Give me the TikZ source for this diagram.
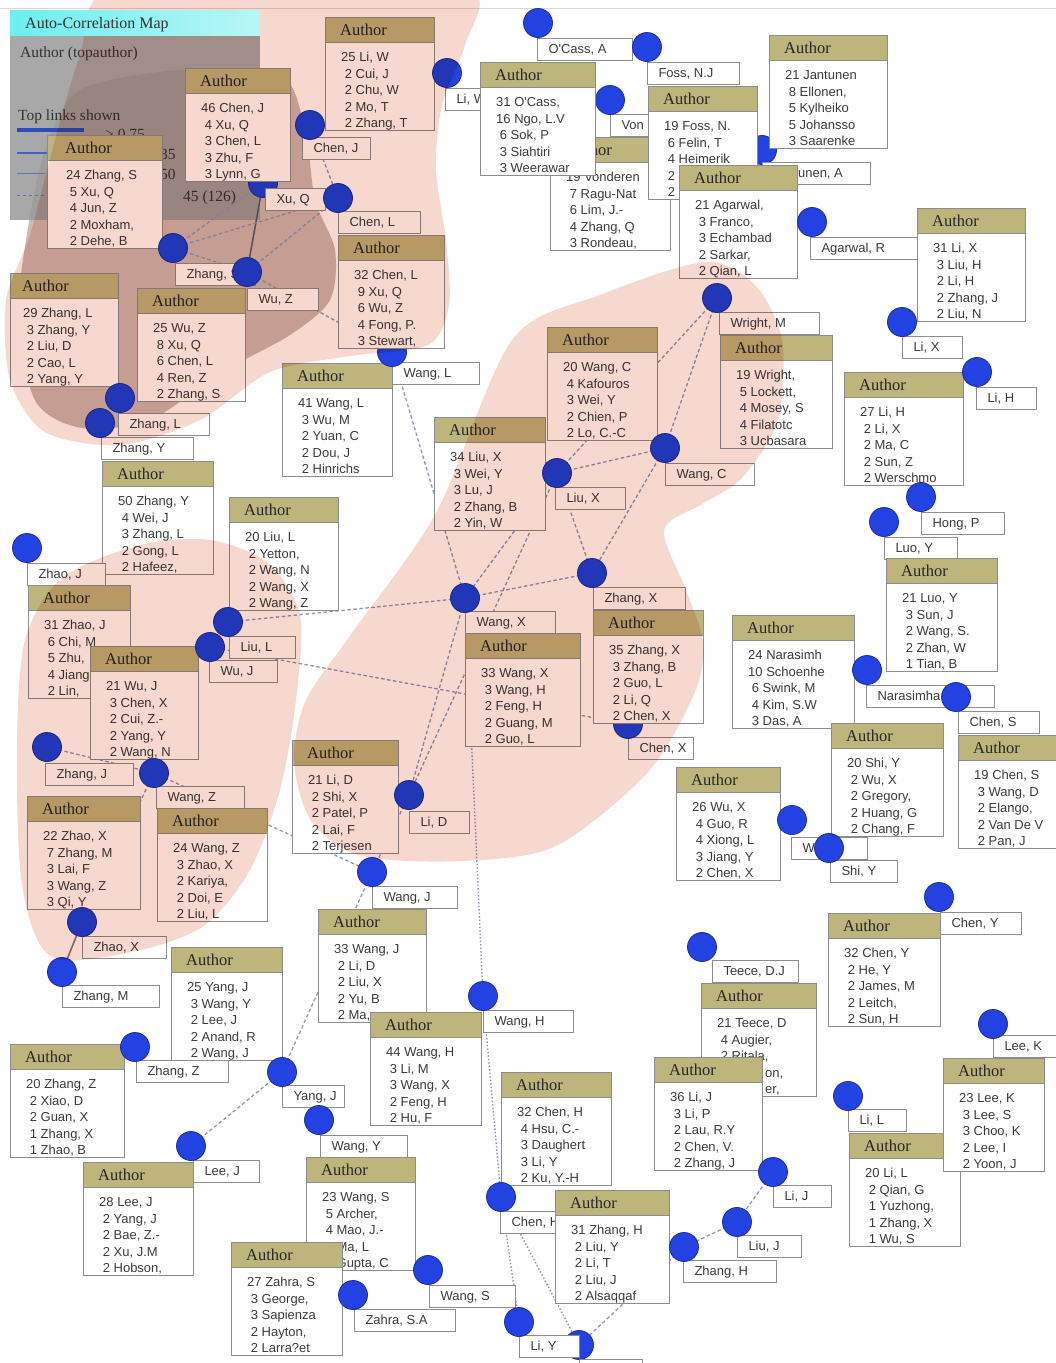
\documentclass[tikz,border=0pt]{standalone}
\usepackage{fontspec}
\setmainfont{Liberation Serif}
\newfontfamily\lsans{Liberation Sans}
\definecolor{hdr}{HTML}{BEB57D}
\definecolor{bord}{HTML}{8C8C8C}
\definecolor{txt}{HTML}{3A3A3A}
\definecolor{dotc}{HTML}{2342E2}
\definecolor{dotb}{HTML}{1B2C9E}
\definecolor{lnk}{HTML}{8E96B8}
\definecolor{pinkb}{HTML}{F6D8CF}
\definecolor{brownb}{HTML}{CDBAB4}
\definecolor{leg}{HTML}{999999}
\definecolor{cyanl}{HTML}{6CEEF0}
\definecolor{cyanr}{HTML}{B8F6F6}
\definecolor{lgA}{HTML}{2B4CB8}
\definecolor{lgB}{HTML}{4462C6}
\definecolor{lgC}{HTML}{5A72C8}
\definecolor{solA}{HTML}{5B5B6E}
\definecolor{solB}{HTML}{8B6F80}
\pgfdeclarelayer{lay0}\pgfdeclarelayer{lay1}\pgfdeclarelayer{lay3}\pgfdeclarelayer{lay4}
\pgfsetlayers{lay0,lay1,main,lay3,lay4}
\tikzset{
 bdot/.style={circle, fill=dotc, draw=dotb, line width=0.8pt, minimum size=29pt, inner sep=0pt},
 lbl/.style={draw=bord, fill=white, line width=1pt, anchor=north west, minimum height=22pt, inner xsep=11pt, inner ysep=0pt, text height=9.5pt, text depth=2.5pt, font=\lsans\fontsize{13}{15}\selectfont, text=txt},
 cardbox/.style={draw=bord, fill=white, line width=1.1pt, anchor=north west, minimum height=113pt, inner sep=0pt},
 cardhead/.style={draw=bord, fill=hdr, line width=1.1pt, anchor=north west, minimum height=25pt, inner sep=0pt},
 headtxt/.style={anchor=base west, inner sep=0pt, font=\fontsize{16.5}{18}\selectfont, text=black!85},
 bodytxt/.style={anchor=base west, inner sep=0pt, font=\lsans\fontsize{13}{16.5}\selectfont, text=txt},
 legtxt/.style={anchor=base west, inner sep=0pt, font=\fontsize{15.5}{17}\selectfont, text=black!80},
 lk/.style={draw=lnk, line width=1.3pt, dash pattern=on 3.5pt off 2.5pt},
 lkd/.style={draw=lnk, line width=1.4pt, dash pattern=on 1.5pt off 2pt},
 lks/.style={draw=#1, line width=1.5pt},
}
\newcommand\card[6][15]{%
 \node[cardbox, minimum width=#5pt] (#2) at (#3,#4) {};
 \node[cardhead, minimum width=#5pt] (#2-h) at (#3,#4) {};
 \node[headtxt] (#2-t) at (#3+#1,#4+18) {Author};
 \node[bodytxt] (#2-b) at (#3+#1+1,#4+44.5) {\begin{tabular}[t]{@{}l@{}}#6\end{tabular}};
}
\newcommand\lab[5]{\node[lbl] (#1) at (#2,#3) {\makebox[\dimexpr#4pt-22pt\relax][l]{#5}};}
\newcommand\bd[3]{\node[bdot] (#1) at (#2,#3) {};}
\begin{document}
\begin{tikzpicture}[x=1pt,y=-1pt]
\useasboundingbox (0,0) rectangle (1056,1363);
\begin{pgfonlayer}{lay0}
\fill[white] (0,0) rectangle (1056,1363);
\draw[black!15, line width=1pt] (0,8) -- (1056,8);
\fill[brownb] plot[smooth cycle] coordinates {(80,90) (180,70) (280,75) (305,130) (315,200) (335,250) (330,300) (290,335) (222,372) (150,420) (82,428) (36,402) (18,322) (26,240) (45,150)};
\fill[leg, fill opacity=0.85] (10,10) rectangle (260,220);
\node[legtxt] (lg1) at (20,57) {Author (topauthor)};
\node[legtxt] (lg2) at (18,120) {Top links shown};
\draw[lgA, line width=4pt] (17,130) -- (84,130);
\node[legtxt] (lg3) at (105,139) {> 0.75};
\draw[lgB, line width=1.6pt] (17,153) -- (47,153);
\node[legtxt] (lg4) at (160,159) {35};
\draw[lgC, line width=1pt] (17,173) -- (45,173);
\node[legtxt] (lg5) at (160,179) {50};
\draw[lgC, line width=1pt, dash pattern=on 3pt off 3pt] (17,195) -- (47,195);
\node[legtxt] (lg6) at (183,201) {45 (126)};
\end{pgfonlayer}
% ---- upper area
\card{cliw}{325}{17}{109}{25 Li, W\\\ 2 Cui, J\\\ 2 Chu, W\\\ 2 Mo, T\\\ 2 Zhang, T}
\lab{lliw}{445}{88}{80}{Li, W}
\bd{dliw}{447}{73}
\card{cvon}{550}{137}{120}{19 Vonderen\\\ 7 Ragu-Nat\\\ 6 Lim, J.-\\\ 4 Zhang, Q\\\ 3 Rondeau,}
\lab{lvon}{610}{114}{80}{Von}
\bd{dvon}{610}{100}
\lab{locass}{537}{38}{95}{O'Cass, A}
\card{cocass}{480}{62}{115}{31 O'Cass,\\16 Ngo, L.V\\\ 6 Sok, P\\\ 3 Siahtiri\\\ 3 Weerawar}
\bd{docass}{538}{23}
\bd{djant}{762}{150}
\card{cjant}{769}{35}{118}{21 Jantunen\\\ 8 Ellonen,\\\ 5 Kylheiko\\\ 5 Johansso\\\ 3 Saarenke}
\lab{ljant}{762}{162}{108}{Jantunen, A}
\lab{lfoss}{647}{62}{92}{Foss, N.J}
\card{cfoss}{648}{86}{109}{19 Foss, N.\\\ 6 Felin, T\\\ 4 Heimerik\\\ 2\\\ 2}
\bd{dfoss}{647}{47}
\card{cagar}{679}{165}{118}{21 Agarwal,\\\ 3 Franco,\\\ 3 Echambad\\\ 2 Sarkar,\\\ 2 Qian, L}
\lab{lagar}{810}{237}{107}{Agarwal, R}
\bd{dagar}{812}{222}
\card{clix}{917}{208}{108}{31 Li, X\\\ 3 Liu, H\\\ 2 Li, H\\\ 2 Zhang, J\\\ 2 Liu, N}
\lab{llix}{902}{336}{60}{Li, X}
\bd{dlix}{902}{322}
% ---- upper-left cluster
\card[18]{czs}{47}{135}{115}{24 Zhang, S\\\ 5 Xu, Q\\\ 4 Jun, Z\\\ 2 Moxham,\\\ 2 Dehe, B}
\lab{lzs}{175}{263}{80}{Zhang, S}
\bd{dzs}{173}{248}
\bd{dxuq}{263}{183}
\card{cchenj}{185}{68}{105}{46 Chen, J\\\ 4 Xu, Q\\\ 3 Chen, L\\\ 3 Zhu, F\\\ 3 Lynn, G}
\lab{lchenj}{302}{137}{68}{Chen, J}
\bd{dchenj}{310}{125}
\lab{lxuq}{265}{188}{60}{Xu, Q}
\card[12]{czl}{10}{273}{108}{29 Zhang, L\\\ 3 Zhang, Y\\\ 2 Liu, D\\\ 2 Cao, L\\\ 2 Yang, Y}
\lab{lzl}{118}{413}{91}{Zhang, L}
\bd{dzl}{120}{398}
\card{cwuz}{137}{288}{108}{25 Wu, Z\\\ 8 Xu, Q\\\ 6 Chen, L\\\ 4 Ren, Z\\\ 2 Zhang, S}
\lab{lwuz}{247}{288}{71}{Wu, Z}
\bd{dwuz}{247}{272}
\card{cwangl}{282}{363}{110}{41 Wang, L\\\ 3 Wu, M\\\ 2 Yuan, C\\\ 2 Dou, J\\\ 2 Hinrichs}
\lab{lwangl}{392}{362}{87}{Wang, L}
\bd{dwangl}{392}{352}
\lab{lchenl}{338}{211}{82}{Chen, L}
\card{cchenl}{338}{235}{106}{32 Chen, L\\\ 9 Xu, Q\\\ 6 Wu, Z\\\ 4 Fong, P.\\\ 3 Stewart,}
\bd{dchenl}{338}{198}
% ---- central
\card{cwangc}{547}{327}{110}{20 Wang, C\\\ 4 Kafouros\\\ 3 Wei, Y\\\ 2 Chien, P\\\ 2 Lo, C.-C}
\lab{lwangc}{665}{463}{89}{Wang, C}
\bd{dwangc}{665}{448}
\lab{lwright}{719}{312}{100}{Wright, M}
\card{cwright}{720}{335}{112}{19 Wright,\\\ 5 Lockett,\\\ 4 Mosey, S\\\ 4 Filatotc\\\ 3 Ucbasara}
\bd{dwright}{717}{298}
\card{clih}{844}{372}{119}{27 Li, H\\\ 2 Li, X\\\ 2 Ma, C\\\ 2 Sun, Z\\\ 2 Werschmo}
\lab{llih}{976}{387}{60}{Li, H}
\bd{dlih}{977}{372}
\card{cliux}{434}{417}{111}{34 Liu, X\\\ 3 Wei, Y\\\ 3 Lu, J\\\ 2 Zhang, B\\\ 2 Yin, W}
\lab{lliux}{555}{487}{70}{Liu, X}
\bd{dliux}{557}{473}
\lab{lhongp}{921}{512}{83}{Hong, P}
\bd{dhongp}{921}{497}
\lab{lluoy}{884}{537}{73}{Luo, Y}
\card{cluoy}{886}{558}{111}{21 Luo, Y\\\ 3 Sun, J\\\ 2 Wang, S.\\\ 2 Zhan, W\\\ 1 Tian, B}
\bd{dluoy}{884}{522}
\lab{lzy}{101}{437}{92}{Zhang, Y}
\card{czy}{102}{461}{111}{50 Zhang, Y\\\ 4 Wei, J\\\ 3 Zhang, L\\\ 2 Gong, L\\\ 2 Hafeez,}
\bd{dzy}{100}{423}
\card{cliul}{229}{497}{109}{20 Liu, L\\\ 2 Yetton,\\\ 2 Wang, N\\\ 2 Wang, X\\\ 2 Wang, Z}
\lab{lliul}{229}{636}{66}{Liu, L}
\bd{dliul}{228}{622}
\lab{lzhaoj}{27}{563}{78}{Zhao, J}
\card{czhaoj}{28}{585}{102}{31 Zhao, J\\\ 6 Chi, M\\\ 5 Zhu,\\\ 4 Jiang,\\\ 2 Lin,}
\bd{dzhaoj}{27}{548}
\card{cwuj}{90}{646}{108}{21 Wu, J\\\ 3 Chen, X\\\ 2 Cui, Z.-\\\ 2 Yang, Y\\\ 2 Wang, N}
\lab{lwuj}{209}{660}{68}{Wu, J}
\bd{dwuj}{210}{647}
\lab{lchenx}{628}{737}{65}{Chen, X}
\bd{dchenx}{628}{724}
\lab{lzx}{593}{587}{92}{Zhang, X}
\card{czx}{593}{610}{110}{35 Zhang, X\\\ 3 Zhang, B\\\ 2 Guo, L\\\ 2 Li, Q\\\ 2 Chen, X}
\bd{dzx}{592}{573}
\lab{lwangx}{465}{611}{90}{Wang, X}
\card{cwangx}{465}{633}{115}{33 Wang, X\\\ 3 Wang, H\\\ 2 Feng, H\\\ 2 Guang, M\\\ 2 Guo, L}
\bd{dwangx}{465}{598}
\card{cnaras}{732}{615}{122}{24 Narasimh\\10 Schoenhe\\\ 6 Swink, M\\\ 4 Kim, S.W\\\ 3 Das, A}
\lab{lnaras}{866}{685}{128}{Narasimha}
\bd{dnaras}{867}{670}
\lab{lchens}{958}{711}{81}{Chen, S}
\card{cchens}{958}{735}{110}{19 Chen, S\\\ 3 Wang, D\\\ 2 Elango,\\\ 2 Van De V\\\ 2 Pan, J}
\bd{dchens}{956}{697}
\card{cwux}{676}{767}{104}{26 Wu, X\\\ 4 Guo, R\\\ 4 Xiong, L\\\ 3 Jiang, Y\\\ 2 Chen, X}
\lab{lwux}{791}{837}{76}{Wu, X}
\bd{dwux}{792}{820}
\card{cshiy}{831}{723}{112}{20 Shi, Y\\\ 2 Wu, X\\\ 2 Gregory,\\\ 2 Huang, G\\\ 2 Chang, F}
\lab{lshiy}{830}{860}{67}{Shi, Y}
\bd{dshiy}{829}{848}
\card{clid}{292}{740}{106}{21 Li, D\\\ 2 Shi, X\\\ 2 Patel, P\\\ 2 Lai, F\\\ 2 Terjesen}
\lab{llid}{409}{811}{60}{Li, D}
\bd{dlid}{409}{795}
% ---- lower-left
\lab{lzj}{45}{763}{88}{Zhang, J}
\bd{dzj}{47}{747}
\lab{lwangz}{156}{786}{88}{Wang, Z}
\card{cwangz}{157}{808}{110}{24 Wang, Z\\\ 3 Zhao, X\\\ 2 Kariya,\\\ 2 Doi, E\\\ 2 Liu, L}
\bd{dwangz}{154}{773}
\card{czhaox}{27}{796}{113}{22 Zhao, X\\\ 7 Zhang, M\\\ 3 Lai, F\\\ 3 Wang, Z\\\ 3 Qi, Y}
\lab{lzhaox}{82}{936}{84}{Zhao, X}
\bd{dzhaox}{82}{922}
\lab{lzm}{62}{985}{97}{Zhang, M}
\bd{dzm}{62}{972}
\lab{lwangj}{372}{886}{85}{Wang, J}
\card{cwangj}{318}{909}{108}{33 Wang, J\\\ 2 Li, D\\\ 2 Liu, X\\\ 2 Yu, B\\\ 2 Ma,}
\bd{dwangj}{372}{872}
\lab{lcheny}{940}{912}{81}{Chen, Y}
\card{ccheny}{828}{913}{112}{32 Chen, Y\\\ 2 He, Y\\\ 2 James, M\\\ 2 Leitch,\\\ 2 Sun, H}
\bd{dcheny}{939}{897}
\card{cyangj}{171}{947}{111}{25 Yang, J\\\ 3 Wang, Y\\\ 2 Lee, J\\\ 2 Anand, R\\\ 2 Wang, J}
\lab{lyangj}{282}{1085}{62}{Yang, J}
\bd{dyangj}{282}{1072}
\lab{lteece}{712}{960}{86}{Teece, D.J}
\card{cteece}{701}{983}{115}{21 Teece, D\\\ 4 Augier,\\\ 2 Ritala,\\\hspace*{48pt}on,\\\hspace*{48pt}er,}
\bd{dteece}{702}{947}
\card{cwangh}{370}{1012}{111}{44 Wang, H\\\ 3 Li, M\\\ 3 Wang, X\\\ 2 Feng, H\\\ 2 Hu, F}
\lab{lwangh}{483}{1010}{90}{Wang, H}
\bd{dwangh}{483}{996}
\card{czz}{10}{1044}{114}{20 Zhang, Z\\\ 2 Xiao, D\\\ 2 Guan, X\\\ 1 Zhang, X\\\ 1 Zhao, B}
\lab{lzz}{136}{1060}{92}{Zhang, Z}
\bd{dzz}{135}{1047}
\card{clij}{654}{1057}{108}{36 Li, J\\\ 3 Li, P\\\ 2 Lau, R.Y\\\ 2 Chen, V.\\\ 2 Zhang, J}
\lab{llij}{773}{1185}{58}{Li, J}
\bd{dlij}{773}{1172}
\lab{llil}{848}{1109}{58}{Li, L}
\card{clil}{849}{1133}{111}{20 Li, L\\\ 2 Qian, G\\\ 1 Yuzhong,\\\ 1 Zhang, X\\\ 1 Wu, S}
\bd{dlil}{848}{1096}
\lab{lleek}{993}{1035}{65}{Lee, K}
\card{cleek}{943}{1058}{101}{23 Lee, K\\\ 3 Lee, S\\\ 3 Choo, K\\\ 2 Lee, I\\\ 2 Yoon, J}
\bd{dleek}{993}{1024}
\card{cchenh}{501}{1072}{110}{32 Chen, H\\\ 4 Hsu, C.-\\\ 3 Daughert\\\ 3 Li, Y\\\ 2 Ku, Y.-H}
\lab{lchenh}{500}{1211}{80}{Chen, H}
\bd{dchenh}{501}{1197}
\lab{lwangy}{320}{1135}{87}{Wang, Y}
\bd{dwangy}{319}{1120}
\card{cwangs}{306}{1157}{109}{23 Wang, S\\\ 5 Archer,\\\ 4 Mao, J.-\\\ 2 Ma, L\\\ 2 Gupta, C}
\lab{lwangs}{429}{1285}{86}{Wang, S}
\bd{dwangs}{428}{1270}
\card{cleej}{83}{1162}{110}{28 Lee, J\\\ 2 Yang, J\\\ 2 Bae, Z.-\\\ 2 Xu, J.M\\\ 2 Hobson,}
\lab{lleej}{193}{1160}{66}{Lee, J}
\bd{dleej}{191}{1146}
\card{czahra}{231}{1242}{111}{27 Zahra, S\\\ 3 George,\\\ 3 Sapienza\\\ 2 Hayton,\\\ 2 Larra?et}
\lab{lzahra}{354}{1309}{101}{Zahra, S.A}
\bd{dzahra}{353}{1295}
\card{czh}{555}{1190}{114}{31 Zhang, H\\\ 2 Liu, Y\\\ 2 Li, T\\\ 2 Liu, J\\\ 2 Alsaqqaf}
\lab{lzh}{683}{1260}{93}{Zhang, H}
\bd{dzh}{684}{1247}
\lab{lliuj}{737}{1235}{64}{Liu, J}
\bd{dliuj}{737}{1222}
\bd{dxx}{579}{1345}
\lab{lxx}{579}{1359}{63}{}
\lab{lliy}{519}{1335}{60}{Li, Y}
\bd{dliy}{519}{1322}
% ---- connectors
\begin{pgfonlayer}{lay1}
\draw[lks=solA] (dxuq.center) -- (dwuz.center);
\draw[lks=solB] (dzhaox.center) -- (dzm.center);
\draw[lk] (dxuq.center) -- (dzs.center);
\draw[lk] (dzs.center) -- (dwuz.center);
\draw[lk] (dwuz.center) -- (dchenl.center);
\draw[lk] (dzs.center) -- (dchenl.center);
\draw[lk] (dchenj.center) -- (dchenl.center);
\draw[lk] (dwuz.center) -- (dwangl.center);
\draw[lk] (dwangl.center) -- (dwangx.center);
\draw[lk] (dwright.center) -- (dwangc.center);
\draw[lk] (dwright.center) -- (dliux.center);
\draw[lk] (dwangc.center) -- (dliux.center);
\draw[lk] (dwangc.center) -- (dzx.center);
\draw[lk] (dliux.center) -- (dzx.center);
\draw[lk] (dliux.center) -- (dwangx.center);
\draw[lk] (dliux.center) -- (dlid.center);
\draw[lk] (dwangx.center) -- (dzx.center);
\draw[lk] (dwangx.center) -- (dlid.center);
\draw[lk] (dliul.center) -- (dwangx.center);
\draw[lk] (dwuj.center) -- (dchenx.center);
\draw[lkd] (dwangx.center) -- (dwangh.center);
\draw[lkd] (dwangh.center) -- (dchenh.center);
\draw[lkd] (dchenh.center) -- (dliy.center);
\draw[lkd] (dchenh.center) -- (dxx.center);
\draw[lk] (dzh.center) -- (dxx.center);
\draw[lk] (dliuj.center) -- (dzh.center);
\draw[lk] (dlij.center) -- (dliuj.center);
\draw[lk] (dwangz.center) -- (dwangj.center);
\draw[lk] (dlid.center) -- (dwangj.center);
\draw[lk] (dwangj.center) -- (dyangj.center);
\draw[lk] (dyangj.center) -- (dleej.center);
\draw[lk] (dzj.center) -- (dwangz.center);
\draw[lk] (dwangz.center) -- (dzhaox.center);
\end{pgfonlayer}
% ---- blobs
\begin{pgfonlayer}{lay3}
\begin{scope}[blend mode=multiply]
\fill[pinkb] plot[smooth cycle] coordinates {(110,-10) (300,-12) (470,-10) (465,45) (442,105) (436,170) (446,240) (449,305) (428,345) (350,356) (270,372) (200,420) (120,445) (45,432) (10,380) (6,300) (30,235) (55,140) (80,55)};
\fill[pinkb] plot[smooth cycle] coordinates {(25,640) (62,578) (140,545) (210,540) (268,563) (300,615) (296,700) (280,790) (250,870) (205,925) (140,950) (52,957) (22,885) (17,745)};
\fill[pinkb] plot[smooth cycle] coordinates {(512,340) (600,295) (705,262) (755,285) (782,340) (778,420) (742,478) (702,504) (664,530) (686,590) (703,642) (695,692) (648,772) (556,846) (462,861) (362,856) (312,822) (294,762) (306,700) (352,633) (436,513)};
\end{scope}
\end{pgfonlayer}
\begin{pgfonlayer}{lay4}
\shade[left color=cyanl, right color=cyanr] (10,10) rectangle (260,35);
\node[legtxt, font=\fontsize{16}{18}\selectfont] (lg0) at (25,28) {Auto-Correlation Map};
\end{pgfonlayer}
\end{tikzpicture}
\end{document}
